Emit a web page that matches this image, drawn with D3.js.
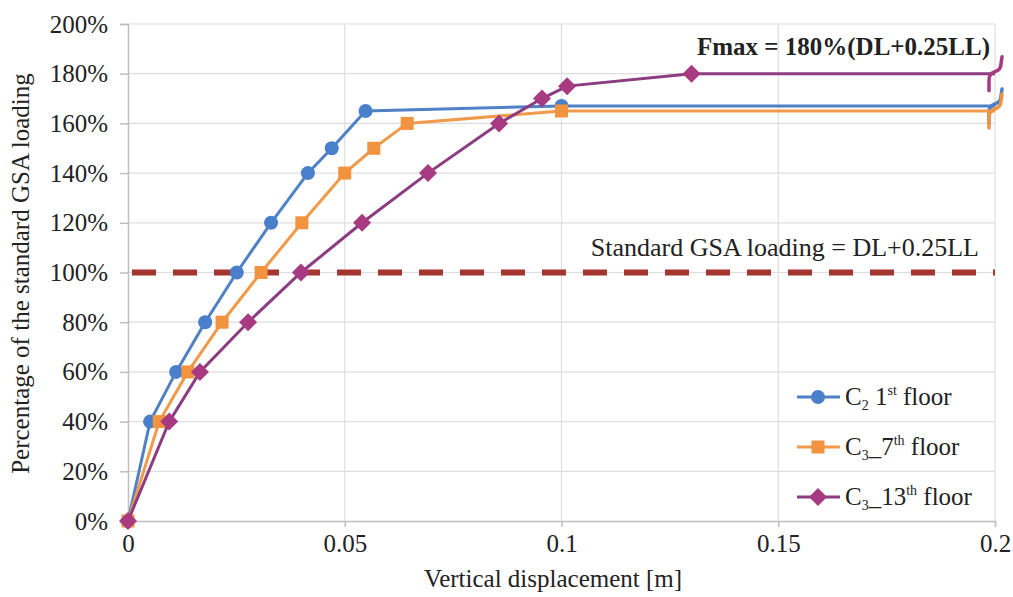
<!DOCTYPE html>
<html>
<head>
<meta charset="utf-8">
<script src="https://cdn.jsdelivr.net/npm/d3@7"></script>
<style>
  body { margin: 0; background: #fff; }
  text { font-family: "Liberation Serif", "Times New Roman", serif; fill: #222; }
</style>
</head>
<body>
<svg id="chart" width="1013" height="597"></svg>
<script>
// values (displacement in m, load in % of GSA loading)
const floor1Disp = [0, 0.0051, 0.0111, 0.0178, 0.0251, 0.033, 0.0415, 0.047, 0.0548, 0.1, 0.2];
const floor1Load = [0, 40, 60, 80, 100, 120, 140, 150, 165, 167, 167];
const floor7Disp = [0, 0.0072, 0.0138, 0.0217, 0.0307, 0.0401, 0.05, 0.0567, 0.0644, 0.1, 0.2];
const floor7Load = [0, 40, 60, 80, 100, 120, 140, 150, 160, 165, 165];
const floor13Disp = [0, 0.0095, 0.0166, 0.0277, 0.0399, 0.054, 0.0692, 0.0856, 0.0955, 0.1013, 0.13, 0.2];
const floor13Load = [0, 40, 60, 80, 100, 120, 140, 160, 170, 175, 180, 180];
const xTicks = [0, 0.05, 0.1, 0.15, 0.2];
const yTicks = [0, 20, 40, 60, 80, 100, 120, 140, 160, 180, 200];
const gsaLevel = 100;

const svg = d3.select('#chart');
const plotLeft = 128, plotRight = 995, plotTop = 24, plotBottom = 521;

const x = d3.scaleLinear().domain([0, 0.2]).range([plotLeft, plotRight]);
const y = d3.scaleLinear().domain([0, 200]).range([plotBottom, plotTop]);

// gridlines
const grid = svg.append('g');
grid.selectAll('line.hg')
  .data(yTicks.slice(1))
  .join('line')
  .attr('class', 'hg')
  .attr('x1', plotLeft).attr('x2', plotRight)
  .attr('y1', d => y(d)).attr('y2', d => y(d))
  .attr('stroke', '#dedede').attr('stroke-width', 1.2);
grid.selectAll('line.vg')
  .data(xTicks.slice(1))
  .join('line')
  .attr('class', 'vg')
  .attr('x1', d => x(d)).attr('x2', d => x(d))
  .attr('y1', plotTop).attr('y2', plotBottom)
  .attr('stroke', '#dedede').attr('stroke-width', 1.2);

// axes
const xAxis = d3.axisBottom(x).tickValues(xTicks).tickFormat(d => String(d)).tickSize(6).tickPadding(7);
const yAxis = d3.axisLeft(y).tickValues(yTicks).tickFormat(d => d + '%').tickSize(8).tickPadding(12);

const gx = svg.append('g').attr('transform', `translate(0,${plotBottom})`).call(xAxis);
const gy = svg.append('g').attr('transform', `translate(${plotLeft},0)`).call(yAxis);
[gx, gy].forEach(g => {
  g.select('.domain').attr('stroke', '#bfbfbf').attr('stroke-width', 1.5);
  g.selectAll('.tick line').attr('stroke', '#bfbfbf').attr('stroke-width', 1.5);
  g.selectAll('.tick text')
    .style('font-family', '"Liberation Serif", serif')
    .style('font-size', '25px')
    .attr('fill', '#333');
});

// axis titles
svg.append('text')
  .attr('x', 553).attr('y', 587)
  .attr('text-anchor', 'middle')
  .style('font-size', '25px')
  .text('Vertical displacement [m]');
svg.append('text')
  .attr('transform', `translate(29,${(plotTop + plotBottom) / 2 + 1}) rotate(-90)`)
  .attr('text-anchor', 'middle')
  .style('font-size', '25px')
  .text('Percentage of the standard GSA loading');

// standard GSA loading line
svg.append('line')
  .attr('x1', plotLeft + 4).attr('x2', plotRight)
  .attr('y1', y(gsaLevel)).attr('y2', y(gsaLevel))
  .attr('stroke', '#a5352f').attr('stroke-width', 6)
  .attr('stroke-dasharray', '24,17');

svg.append('text')
  .attr('x', 979).attr('y', 256)
  .attr('text-anchor', 'end')
  .style('font-size', '26px')
  .text('Standard GSA loading = DL+0.25LL');

svg.append('text')
  .attr('x', 990).attr('y', 55)
  .attr('text-anchor', 'end')
  .style('font-size', '25px')
  .style('font-weight', 'bold')
  .attr('fill', '#111')
  .text('Fmax = 180%(DL+0.25LL)');

// series
const series = [
  { disp: floor1Disp, load: floor1Load, line: '#4f81c4', mark: '#4a7fcb', shape: 'circle' },
  { disp: floor7Disp, load: floor7Load, line: '#f29a4c', mark: '#f1933f', shape: 'square' },
  { disp: floor13Disp, load: floor13Load, line: '#8c3c80', mark: '#a73a80', shape: 'diamond' }
];

const line = d3.line().x(d => x(d[0])).y(d => y(d[1]));

function drawMarker(g, shape, color, px, py) {
  if (shape === 'circle') {
    g.append('circle').attr('cx', px).attr('cy', py).attr('r', 7).attr('fill', color);
  } else if (shape === 'square') {
    g.append('rect').attr('x', px - 6.5).attr('y', py - 6.5).attr('width', 13).attr('height', 13).attr('fill', color);
  } else {
    g.append('path')
      .attr('d', `M${px},${py - 9}L${px + 9},${py}L${px},${py + 9}L${px - 9},${py}Z`)
      .attr('fill', color);
  }
}

series.forEach(s => {
  const pts = s.disp.map((d, i) => [d, s.load[i]]);
  const g = svg.append('g');
  g.append('path')
    .datum(pts)
    .attr('d', line)
    .attr('fill', 'none')
    .attr('stroke', s.line)
    .attr('stroke-width', 3);
  // markers on every point but the last (axis break there)
  pts.slice(0, -1).forEach(p => drawMarker(g, s.shape, s.mark, x(p[0]), y(p[1])));
  // break mark at the end of the line
  const last = pts[pts.length - 1];
  const bx = x(last[0]) - 2, by = y(last[1]);
  g.append('path')
    .attr('d', `M${bx - 4},${by + 17}L${bx - 4},${by + 6}Q${bx - 4},${by} ${bx + 2},${by - 2}Q${bx + 8},${by - 4} ${bx + 8},${by - 10}L${bx + 9},${by - 17}`)
    .attr('fill', 'none')
    .attr('stroke', s.mark)
    .attr('stroke-width', 3.5)
    .attr('stroke-linecap', 'round');
});

// legend: [text, kind] pieces, kind = '' | 'sub' | 'sup'
const legendNames = [
  [['C', ''], ['2', 'sub'], [' 1', ''], ['st', 'sup'], [' floor', '']],
  [['C', ''], ['3', 'sub'], ['_7', ''], ['th', 'sup'], [' floor', '']],
  [['C', ''], ['3', 'sub'], ['_13', ''], ['th', 'sup'], [' floor', '']]
];
const legendY = [397, 447, 497];

series.forEach((s, i) => {
  const g = svg.append('g');
  const ly = legendY[i];
  g.append('line')
    .attr('x1', 797).attr('x2', 840)
    .attr('y1', ly).attr('y2', ly)
    .attr('stroke', s.line).attr('stroke-width', 3);
  drawMarker(g, s.shape, s.mark, 818, ly);
  const t = g.append('text')
    .attr('x', 845).attr('y', ly + 8)
    .style('font-size', '25px');
  let shift = 0;
  legendNames[i].forEach(([txt, kind]) => {
    const want = kind === 'sub' ? 5 : kind === 'sup' ? -10 : 0;
    const ts = t.append('tspan').text(txt).attr('dy', want - shift);
    if (kind) ts.style('font-size', '14px');
    shift = want;
  });
});
</script>
</body>
</html>
